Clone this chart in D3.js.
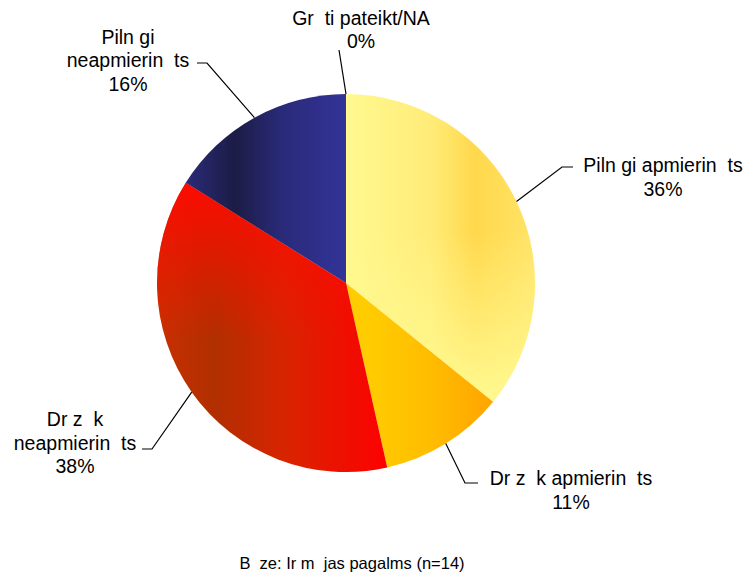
<!DOCTYPE html>
<html>
<head>
<meta charset="utf-8">
<script src="https://cdn.jsdelivr.net/npm/d3@7"></script>
<style>
  body { margin: 0; background: #fff; }
  text { font-family: "Liberation Sans", Arial, sans-serif; white-space: pre; }
</style>
</head>
<body>
<div id="pie_chart"></div>
<script>
// categories in drawing order, clockwise from 12 o'clock
var categories = ["Gr  ti pateikt/NA", "Piln gi apmierin  ts", "Dr z  k apmierin  ts", "Dr z  k\nneapmierin  ts", "Piln gi\nneapmierin  ts"];
var values = [0, 35.8, 10.7, 37.4, 16.1];
var percentLabels = ["0%", "36%", "11%", "38%", "16%"];
var footnote = "B  ze: Ir m  jas pagalms (n=14)";

// label placement (layout only): centre x, first baseline, leader line points
var labelLayout = [
  {x: 361, y: 24.5, line: [[339, 50]]},
  {x: 663, y: 172, line: [[562, 167], [573, 167]]},
  {x: 571, y: 485, line: [[465, 483], [478, 483]]},
  {x: 75, y: 426, line: [[152, 449], [142, 449]]},
  {x: 128, y: 43.5, line: [[207, 63], [197, 63]]}
];

const width = 749, height = 577;
const cx = 346, cy = 283, radius = 189;
const lineStep = 23.7;

var svg = d3.select("#pie_chart")
  .append("svg")
  .attr("width", width)
  .attr("height", height);

var defs = svg.append("defs");

// gradients, given in page coordinates and shifted to the pie centre
function grad(id, stops, x1, y1, x2, y2) {
  var g = defs.append("linearGradient")
    .attr("id", id)
    .attr("gradientUnits", "userSpaceOnUse")
    .attr("x1", x1 - cx).attr("y1", y1 - cy).attr("x2", x2 - cx).attr("y2", y2 - cy);
  stops.forEach(s => g.append("stop").attr("offset", s[0]).attr("stop-color", s[1]).attr("stop-opacity", s[2] == null ? 1 : s[2]));
}

grad("g0", [[0, "#ffffff"], [1, "#ffffff"]], 0, 0, 1, 0);
grad("g1", [[0, "#fff990"], [0.45, "#ffec78"], [0.68, "#ffd84c"], [1, "#ffe468"]], 346, 0, 535, 0);
grad("g2", [[0, "#ffcc00"], [0.5, "#ffbc00"], [1, "#ffa400"]], 370, 0, 495, 0);
grad("g3", [[0, "#c83000"], [0.25, "#b12f00"], [0.55, "#d82400"], [1, "#ff0000"]], 157, 0, 390, 0);
grad("g4", [[0, "#2a2a78"], [0.3, "#1c1c46"], [0.6, "#2a2a7a"], [1, "#333399"]], 187, 0, 346, 0);

// overlays: lighten the lower yellow, brighten the upper red
grad("o1", [[0, "#fff990", 0], [1, "#fff990", 1]], 0, 230, 0, 400);
grad("o3", [[0, "#ff0a00", 0.95], [1, "#ff0a00", 0]], 0, 185, 0, 340);

var pie = d3.pie().sort(null).value(d => d);
var arcs = pie(values);

var arc = d3.arc().innerRadius(0).outerRadius(radius);
var edge = d3.arc().innerRadius(radius).outerRadius(radius);

var g = svg.append("g").attr("transform", "translate(" + cx + "," + cy + ")");

g.selectAll("path.slice")
  .data(arcs)
  .enter()
  .append("path")
  .attr("class", "slice")
  .attr("d", arc)
  .attr("fill", (d, i) => "url(#g" + i + ")");

// overlay layers
g.selectAll("path.over")
  .data(arcs.filter((d, i) => i == 1 || i == 3))
  .enter()
  .append("path")
  .attr("class", "over")
  .attr("d", arc)
  .attr("fill", d => "url(#o" + d.index + ")");

// leader lines
var lineGen = d3.line();
svg.selectAll("path.leader")
  .data(arcs)
  .enter()
  .append("path")
  .attr("class", "leader")
  .attr("d", (d, i) => {
    var c = edge.centroid(d);
    var pts = [[cx + c[0], cy + c[1]]].concat(labelLayout[i].line);
    return lineGen(pts);
  })
  .attr("fill", "none")
  .attr("stroke", "#000")
  .attr("stroke-width", 1.2);

// labels
var labels = svg.selectAll("text.label")
  .data(arcs)
  .enter()
  .append("text")
  .attr("class", "label")
  .attr("text-anchor", "middle")
  .style("font-size", "19.5px")
  .attr("fill", "#000");

labels.each(function(d, i) {
  var lines = categories[i].split("\n").concat([percentLabels[i]]);
  var t = d3.select(this);
  lines.forEach((s, k) => {
    t.append("tspan")
      .attr("x", labelLayout[i].x)
      .attr("y", labelLayout[i].y + k * lineStep)
      .text(s);
  });
});

svg.append("text")
  .attr("x", 352)
  .attr("y", 569)
  .attr("text-anchor", "middle")
  .style("font-size", "16.5px")
  .text(footnote);
</script>
</body>
</html>
